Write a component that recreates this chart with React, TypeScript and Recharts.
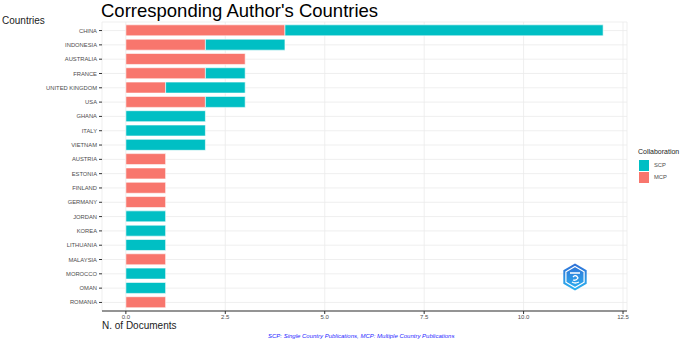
import { Bar, BarChart, CartesianGrid, XAxis, YAxis } from "recharts";

const countries = [
  "CHINA",
  "INDONESIA",
  "AUSTRALIA",
  "FRANCE",
  "UNITED KINGDOM",
  "USA",
  "GHANA",
  "ITALY",
  "VIETNAM",
  "AUSTRIA",
  "ESTONIA",
  "FINLAND",
  "GERMANY",
  "JORDAN",
  "KOREA",
  "LITHUANIA",
  "MALAYSIA",
  "MOROCCO",
  "OMAN",
  "ROMANIA",
];
const mcpCounts = [4, 2, 3, 2, 1, 2, 0, 0, 0, 1, 1, 1, 1, 0, 0, 0, 1, 0, 0, 1];
const scpCounts = [8, 2, 0, 1, 2, 1, 2, 2, 2, 0, 0, 0, 0, 1, 1, 1, 0, 1, 1, 0];
const xTicks = [0, 2.5, 5, 7.5, 10, 12.5];

const MCP_COLOR = "#F8766D";
const SCP_COLOR = "#00BFC4";
const FONT = "'Liberation Sans', Arial, sans-serif";

const rows = countries.map((country, i) => ({
  country,
  MCP: mcpCounts[i],
  SCP: scpCounts[i],
}));

type TickProps = {
  x?: number;
  y?: number;
  payload?: { value: string | number };
};

function CountryTick({ x = 0, y = 0, payload }: TickProps) {
  return (
    <text x={x} y={y} dy="0.35em" textAnchor="end" fontSize={5.8} fill="#4d4d4d" fontFamily={FONT}>
      {payload?.value}
    </text>
  );
}

function Logo() {
  const pts = (r: number) =>
    Array.from({ length: 6 }, (_, i) => {
      const a = (Math.PI / 3) * i - Math.PI / 2;
      return `${14 + r * Math.cos(a)},${15 + r * Math.sin(a)}`;
    }).join(" ");
  return (
    <svg width={28} height={30} style={{ position: "absolute", left: 561, top: 262 }}>
      <defs>
        <linearGradient id="hexFill" x1="0" y1="0" x2="0" y2="1">
          <stop offset="0%" stopColor="#2f6fd6" />
          <stop offset="100%" stopColor="#2bb3f0" />
        </linearGradient>
      </defs>
      <polygon points={pts(13.5)} fill="url(#hexFill)" />
      <polygon points={pts(10.5)} fill="none" stroke="#ffffff" strokeWidth={1.2} />
      <path d="M9 11 h10 M12 15 q3 -3 5 1 q-2 3 -5 2 M11 20 q3 2 7 0" stroke="#ffffff" strokeWidth={1.3} fill="none" />
    </svg>
  );
}

export default function App() {
  return (
    <div
      style={{
        position: "absolute",
        left: 0,
        top: 0,
        width: 685,
        height: 343,
        background: "#ffffff",
        fontFamily: FONT,
      }}
    >
      <BarChart
        width={685}
        height={343}
        data={rows}
        layout="vertical"
        margin={{ top: 22, right: 58, bottom: 0, left: 0 }}
        barCategoryGap="10%"
      >
        <CartesianGrid stroke="#ebebeb" strokeWidth={0.8} />
        <XAxis
          type="number"
          domain={[-0.6, 12.6]}
          ticks={xTicks}
          tickFormatter={(v: number) => v.toFixed(1)}
          axisLine={{ stroke: "#333333", strokeWidth: 1.2 }}
          tickLine={{ stroke: "#333333" }}
          tickSize={3}
          tickMargin={1}
          tick={{ fontSize: 6, fill: "#4d4d4d", fontFamily: FONT }}
          height={32}
        />
        <YAxis
          type="category"
          dataKey="country"
          width={102}
          axisLine={false}
          tickLine={{ stroke: "#333333" }}
          tickSize={3}
          tickMargin={2}
          padding={{ top: 1.4, bottom: 1.4 }}
          tick={<CountryTick />}
          interval={0}
        />
        <Bar dataKey="MCP" stackId="a" fill={MCP_COLOR} stroke="#ffffff" strokeWidth={0.6} isAnimationActive={false} />
        <Bar dataKey="SCP" stackId="a" fill={SCP_COLOR} stroke="#ffffff" strokeWidth={0.6} isAnimationActive={false} />
      </BarChart>

      <div
        style={{
          position: "absolute",
          left: 101,
          top: 0,
          fontSize: 18.5,
          lineHeight: "21px",
          color: "#000000",
          whiteSpace: "nowrap",
        }}
      >
        Corresponding Author's Countries
      </div>
      <div style={{ position: "absolute", left: 2, top: 15, fontSize: 10, color: "#222222" }}>Countries</div>
      <div style={{ position: "absolute", left: 102, top: 320, fontSize: 10, color: "#222222", whiteSpace: "nowrap" }}>
        N. of Documents
      </div>
      <div
        style={{
          position: "absolute",
          left: 268,
          top: 333,
          fontSize: 6,
          fontStyle: "italic",
          color: "#1f1fff",
          whiteSpace: "nowrap",
        }}
      >
        SCP: Single Country Publications, MCP: Multiple Country Publications
      </div>

      <div style={{ position: "absolute", left: 638, top: 148, fontSize: 7, color: "#222222" }}>Collaboration</div>
      <div style={{ position: "absolute", left: 639, top: 160, width: 10, height: 11, background: SCP_COLOR }} />
      <div style={{ position: "absolute", left: 639, top: 172, width: 10, height: 11, background: MCP_COLOR }} />
      <div style={{ position: "absolute", left: 654, top: 162, fontSize: 5.8, color: "#4d4d4d" }}>SCP</div>
      <div style={{ position: "absolute", left: 654, top: 174, fontSize: 5.8, color: "#4d4d4d" }}>MCP</div>

      <Logo />
    </div>
  );
}
